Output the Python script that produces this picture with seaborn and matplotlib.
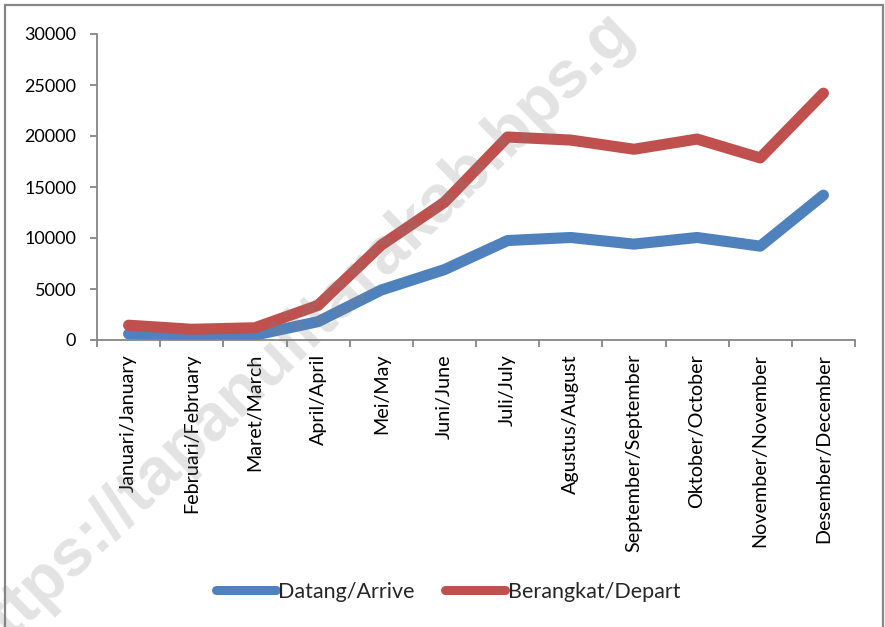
import matplotlib
matplotlib.use("Agg")
import matplotlib.pyplot as plt
import seaborn as sns
import pandas as pd
from matplotlib.patches import Rectangle
from matplotlib.ticker import FixedLocator

months = ["Januari/January", "Februari/February", "Maret/March", "April/April",
          "Mei/May", "Juni/June", "Juli/July", "Agustus/August",
          "September/September", "Oktober/October", "November/November",
          "Desember/December"]
arrive = [600, 450, 480, 1800, 4900, 6900, 9750, 10050, 9400, 10050, 9200, 14200]
depart = [1450, 1050, 1200, 3400, 9300, 13500, 19900, 19600, 18700, 19700, 17850, 24200]
series_names = ["Datang/Arrive", "Berangkat/Depart"]
colors = ["#4F81BD", "#C0504D"]
yticks = [0, 5000, 10000, 15000, 20000, 25000, 30000]

df = pd.DataFrame({
    "month": months * 2,
    "idx": list(range(len(months))) * 2,
    "value": arrive + depart,
    "series": [series_names[0]] * len(months) + [series_names[1]] * len(months),
})

sns.set_theme(style="white")
plt.rcParams["font.family"] = ["Lato", "DejaVu Sans"]

fig = plt.figure(figsize=(8.85, 6.27), dpi=100)
ax = fig.add_axes([97 / 885, 1 - 340 / 627, (855 - 97) / 885, (340 - 34) / 627])

sns.lineplot(data=df, x="idx", y="value", hue="series", hue_order=series_names,
             palette=colors, linewidth=8, ax=ax, sort=False, legend=True)
for ln in ax.get_lines():
    ln.set_solid_capstyle("round")
    ln.set_solid_joinstyle("round")

ax.set_xlim(-0.5, len(months) - 0.5)
ax.set_ylim(0, 30000)
ax.set_xlabel("")
ax.set_ylabel("")

axis_gray = "#868686"
for s in ["top", "right"]:
    ax.spines[s].set_visible(False)
for s in ["left", "bottom"]:
    ax.spines[s].set_color(axis_gray)
    ax.spines[s].set_linewidth(1.3)

ax.set_yticks(yticks)
ax.set_yticklabels([str(v) for v in yticks], fontsize=13, color="black")
ax.tick_params(axis="y", which="major", length=5, width=1.3, color=axis_gray,
               direction="out", pad=10, left=True)

ax.set_xticks(range(len(months)))
ax.set_xticklabels(months, rotation=90, fontsize=14.2, color="black", va="top")
ax.xaxis.set_minor_locator(FixedLocator([i - 0.5 for i in range(len(months) + 1)]))
ax.tick_params(axis="x", which="major", length=0, pad=10, bottom=True)
ax.tick_params(axis="x", which="minor", length=5, width=1.3, color=axis_gray,
               direction="out", bottom=True)

leg = ax.legend(loc="center", bbox_to_anchor=(448 / 885, 1 - 592 / 627),
                bbox_transform=fig.transFigure, ncol=2, frameon=False,
                fontsize=15.5, handlelength=2.8, handletextpad=0.1,
                columnspacing=1.4)
for h in leg.get_lines():
    h.set_linewidth(6.5)
    h.set_solid_capstyle("round")

# outer frame
fig.patches.append(Rectangle((5 / 885, -0.05), (883 - 5) / 885, 1.05 - 5 / 627,
                             transform=fig.transFigure, fill=False,
                             edgecolor=axis_gray, linewidth=1.6, zorder=0))

# watermark
fig.text(635 / 885, 1 - 34 / 627, "https://tapanulitarakab.bps.g",
         rotation=44, rotation_mode="anchor", ha="right", va="baseline",
         fontsize=48, fontweight="bold", family="Liberation Sans",
         color="#7f7f7f", alpha=0.22, zorder=10)

fig.savefig("out.png", dpi=100)
